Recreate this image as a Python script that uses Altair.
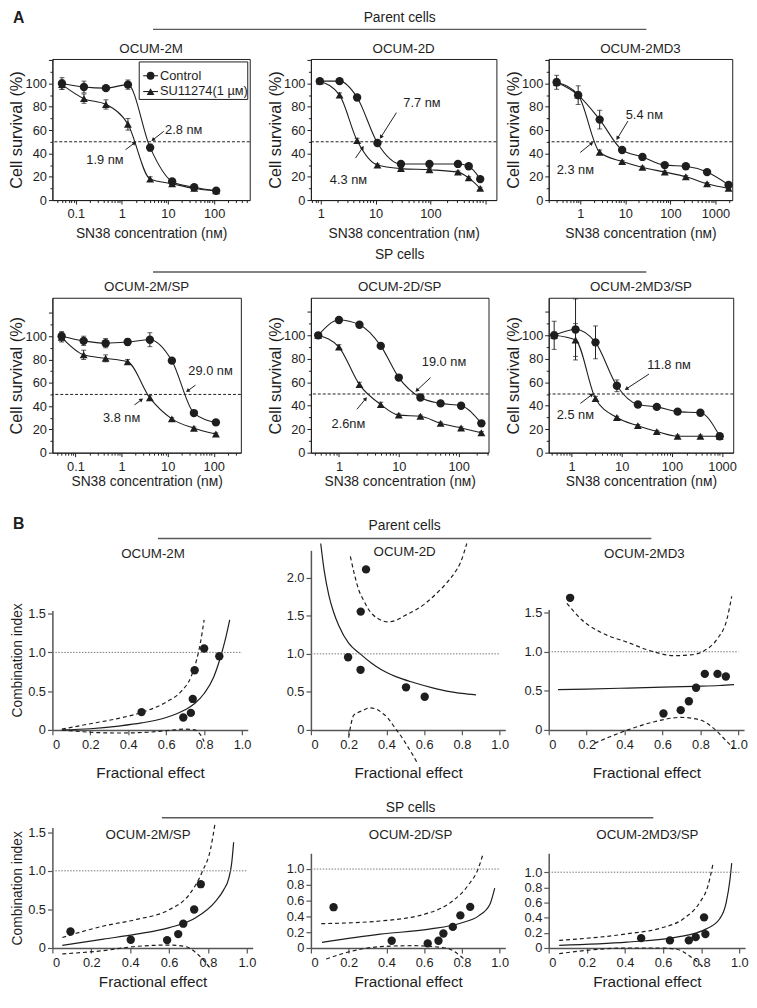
import json
import math
import altair as alt
import pandas as pd

FONT = "Liberation Sans"
INK = "#1e1e1e"
AXC = "#555555"
NM = "n\u1d0d"
UNIT = "SN38 concentration (" + NM + ")"

# ---------------- A: cell survival (%) ----------------
A1_2M_conc = [0.05, 0.15, 0.45, 1.35, 4.1, 12.3, 37, 111]
A1_2M_ctrl = [100, 97, 96, 99, 45, 16, 11, 8]
A1_2M_ctrl_err = [5, 5, 2, 4, 3, 2, 1, 1]
A1_2M_su = [99, 87, 82, 65, 18, 14, 10, 8]
A1_2M_su_err = [4, 4, 4, 5, 2, 1, 1, 1]

A1_2D_conc = [0.96, 2.2, 4.6, 10.8, 29, 96, 318, 500, 810]
A1_2D_ctrl = [102, 102, 88, 49, 31, 31, 31, 29, 18]
A1_2D_ctrl_err = [2, 2, 2, 2, 1, 1, 1, 1, 1]
A1_2D_su = [102, 90, 51, 30, 27, 26, 24, 19, 10]
A1_2D_su_err = [2, 2, 2, 1, 1, 1, 1, 1, 1]

A1_2MD3_conc = [0.3, 0.9, 2.7, 8.5, 24, 75, 220, 650, 1950]
A1_2MD3_ctrl = [101, 90, 69, 43, 37, 30, 29, 24, 13]
A1_2MD3_ctrl_err = [6, 8, 8, 2, 1, 1, 1, 1, 1]
A1_2MD3_su = [101, 90, 41, 33, 28, 24, 20, 14, 10]
A1_2MD3_su_err = [3, 3, 2, 1, 1, 1, 1, 1, 1]

A2_2M_conc = [0.05, 0.15, 0.45, 1.35, 4.1, 12.3, 37, 111]
A2_2M_ctrl = [100, 96, 94, 95, 97, 79, 34, 26]
A2_2M_ctrl_err = [4, 4, 4, 3, 6, 2, 2, 1]
A2_2M_su = [99, 84, 81, 78, 47, 29, 21, 16]
A2_2M_su_err = [4, 4, 3, 2, 2, 1, 1, 1]

A2_2D_conc = [0.45, 1.0, 2.2, 5, 10, 23, 50, 110, 240]
A2_2D_ctrl = [100, 113, 109, 91, 64, 47, 42, 40, 25]
A2_2D_ctrl_err = [2, 2, 2, 2, 2, 2, 2, 2, 2]
A2_2D_su = [100, 90, 58, 41, 32, 31, 25, 21, 17]
A2_2D_su_err = [2, 2, 2, 2, 1, 1, 1, 1, 1]

A2_2MD3_conc = [0.45, 1.2, 3, 8, 21, 50, 130, 370, 900]
A2_2MD3_ctrl = [100, 105, 94, 57, 41, 39, 35, 34, 14]
A2_2MD3_ctrl_err = [12, 26, 14, 5, 2, 2, 2, 2, 1]
A2_2MD3_su = [100, 96, 46, 30, 23, 18, 14, 14, 14]
A2_2MD3_su_err = [3, 14, 2, 1, 1, 1, 1, 1, 1]

# IC50 annotations: (text, x, y) and arrows (x_tail, y_tail, x_tip, y_tip)
A1_2M_notes = [("2.8 " + NM, 22, 60), ("1.9 " + NM, 0.43, 34)]
A1_2M_arrows = [(8.1, 59, 4.7, 51.6), (1.2, 43.2, 1.87, 49)]
A1_2D_notes = [("7.7 " + NM, 70, 83), ("4.3 " + NM, 3.2, 17)]
A1_2D_arrows = [(24, 75, 12.5, 54), (4.3, 36, 5.8, 45)]
A1_2MD3_notes = [("5.4 " + NM, 26.5, 73), ("2.3 " + NM, 0.78, 25.4)]
A1_2MD3_arrows = [(11.4, 67.7, 6.7, 53), (1.0, 40.8, 1.8, 48.8)]
A2_2M_notes = [("29.0 " + NM, 85, 70), ("3.8 " + NM, 1.0, 30)]
A2_2M_arrows = [(40, 58, 27, 53), (1.9, 41, 2.7, 45.5)]
A2_2D_notes = [("19.0 " + NM, 57, 77), ("2.6" + NM, 1.44, 24)]
A2_2D_arrows = [(34, 64, 20, 53), (2.0, 37, 2.8, 46)]
A2_2MD3_notes = [("11.8 " + NM, 88, 75), ("2.5 " + NM, 1.19, 32)]
A2_2MD3_arrows = [(35, 67, 12.4, 54.4), (1.5, 42, 2.54, 49.4)]

LEGEND_LABELS = ["Control", "SU11274(1 \u00b5\u1d0d)"]

# ---------------- B: combination index ----------------
B1_2M_pts_fa = [0.47, 0.69, 0.73, 0.74, 0.75, 0.80, 0.88]
B1_2M_pts_ci = [0.23, 0.16, 0.22, 0.40, 0.77, 1.05, 0.95]
B1_2M_fit_fa = [0.05, 0.2, 0.35, 0.47, 0.6, 0.7, 0.75, 0.8, 0.85, 0.89, 0.915, 0.935]
B1_2M_fit_ci = [0.0, 0.015, 0.05, 0.09, 0.16, 0.26, 0.34, 0.47, 0.68, 0.97, 1.2, 1.42]
B1_2M_hi_fa = [0.05, 0.2, 0.35, 0.47, 0.6, 0.68, 0.73, 0.76, 0.78, 0.8]
B1_2M_hi_ci = [0.01, 0.08, 0.15, 0.225, 0.36, 0.5, 0.68, 0.9, 1.12, 1.42]
B1_2M_lo_fa = [0.05, 0.2, 0.35, 0.5, 0.62, 0.7, 0.75, 0.78, 0.8]
B1_2M_lo_ci = [0.0, -0.03, -0.04, -0.03, -0.005, 0.01, 0.0, -0.06, -0.15]

B1_2D_pts_fa = [0.197, 0.263, 0.264, 0.292, 0.504, 0.603]
B1_2D_pts_ci = [0.955, 0.79, 1.555, 2.11, 0.56, 0.436]
B1_2D_fit_fa = [0.052, 0.07, 0.096, 0.12, 0.148, 0.2, 0.261, 0.32, 0.374, 0.45, 0.548, 0.65, 0.72, 0.8, 0.875]
B1_2D_fit_ci = [2.45, 2.1, 1.76, 1.55, 1.37, 1.14, 1.0, 0.88, 0.79, 0.7, 0.62, 0.55, 0.51, 0.48, 0.46]
B1_2D_hi_fa = [0.209, 0.23, 0.252, 0.28, 0.304, 0.33, 0.357, 0.383, 0.409, 0.45, 0.496, 0.55, 0.6, 0.66, 0.722, 0.76, 0.791, 0.826]
B1_2D_hi_ci = [2.28, 2.05, 1.85, 1.7, 1.59, 1.51, 1.46, 1.43, 1.42, 1.44, 1.5, 1.57, 1.65, 1.78, 1.94, 2.06, 2.19, 2.45]
B1_2D_lo_fa = [0.2, 0.213, 0.226, 0.25, 0.27, 0.313, 0.35, 0.374, 0.41, 0.443, 0.48, 0.513, 0.545, 0.565]
B1_2D_lo_ci = [-0.1, 0.08, 0.19, 0.23, 0.25, 0.29, 0.27, 0.23, 0.15, 0.035, -0.09, -0.22, -0.35, -0.44]

B1_2MD3_pts_fa = [0.113, 0.605, 0.696, 0.739, 0.777, 0.823, 0.89, 0.934]
B1_2MD3_pts_ci = [1.69, 0.21, 0.253, 0.367, 0.54, 0.717, 0.717, 0.684]
B1_2MD3_fit_fa = [0.049, 0.2, 0.417, 0.6, 0.765, 0.9, 0.977]
B1_2MD3_fit_ci = [0.515, 0.523, 0.536, 0.547, 0.558, 0.568, 0.58]
B1_2MD3_hi_fa = [0.096, 0.174, 0.278, 0.417, 0.539, 0.661, 0.748, 0.817, 0.887, 0.939, 0.965]
B1_2MD3_hi_ci = [1.62, 1.41, 1.245, 1.12, 1.01, 0.95, 0.96, 1.01, 1.16, 1.41, 1.71]
B1_2MD3_lo_fa = [0.243, 0.33, 0.417, 0.557, 0.696, 0.8, 0.87, 0.939, 0.974]
B1_2MD3_lo_ci = [-0.17, -0.08, 0.0, 0.105, 0.16, 0.127, 0.02, -0.148, -0.23]

B2_2M_pts_fa = [0.093, 0.403, 0.59, 0.647, 0.673, 0.729, 0.763]
B2_2M_pts_ci = [0.213, 0.107, 0.102, 0.18, 0.315, 0.498, 0.827]
B2_2M_fit_fa = [0.051, 0.263, 0.432, 0.602, 0.737, 0.839, 0.88, 0.907, 0.922, 0.932]
B2_2M_fit_ci = [0.034, 0.115, 0.179, 0.264, 0.392, 0.605, 0.75, 0.903, 1.1, 1.37]
B2_2M_hi_fa = [0.051, 0.263, 0.432, 0.602, 0.703, 0.771, 0.814, 0.836]
B2_2M_hi_ci = [0.136, 0.285, 0.37, 0.498, 0.69, 0.99, 1.29, 1.61]
B2_2M_lo_fa = [0.051, 0.263, 0.432, 0.602, 0.686, 0.754, 0.814]
B2_2M_lo_ci = [-0.077, -0.034, 0.021, 0.038, 0.017, -0.098, -0.27]

B2_2D_pts_fa = [0.12, 0.428, 0.619, 0.676, 0.702, 0.752, 0.792, 0.844]
B2_2D_pts_ci = [0.517, 0.092, 0.058, 0.092, 0.183, 0.267, 0.413, 0.521]
B2_2D_fit_fa = [0.059, 0.367, 0.627, 0.8, 0.887, 0.948, 0.974]
B2_2D_fit_ci = [0.071, 0.175, 0.238, 0.32, 0.404, 0.55, 0.758]
B2_2D_hi_fa = [0.055, 0.367, 0.627, 0.749, 0.835, 0.887, 0.91]
B2_2D_hi_ci = [0.308, 0.342, 0.446, 0.592, 0.8, 1.008, 1.175]
B2_2D_lo_fa = [0.081, 0.194, 0.367, 0.541, 0.714, 0.8, 0.82]
B2_2D_lo_ci = [-0.14, -0.054, 0.017, 0.029, 0.0, -0.117, -0.16]

B2_2MD3_pts_fa = [0.485, 0.636, 0.735, 0.771, 0.822, 0.815]
B2_2MD3_pts_ci = [0.13, 0.1, 0.1, 0.143, 0.183, 0.404]
B2_2MD3_fit_fa = [0.055, 0.411, 0.671, 0.827, 0.896, 0.931, 0.951, 0.96]
B2_2MD3_fit_ci = [0.035, 0.078, 0.143, 0.252, 0.383, 0.6, 0.904, 1.12]
B2_2MD3_hi_fa = [0.055, 0.411, 0.584, 0.705, 0.792, 0.835, 0.861]
B2_2MD3_hi_ci = [0.1, 0.187, 0.26, 0.383, 0.6, 0.817, 1.1]
B2_2MD3_lo_fa = [0.055, 0.411, 0.584, 0.671, 0.757, 0.809]
B2_2MD3_lo_ci = [-0.074, 0.0, 0.0, -0.017, -0.139, -0.248]

MAJOR_LOG = "abs(log(datum.value)/LN10 - round(log(datum.value)/LN10)) < 0.001"
FMT1 = "datum.value == 0 ? '0' : format(datum.value, '.1f')"


def log_tick_values(lo, hi):
    vals = []
    for e in range(math.floor(math.log10(lo)), math.ceil(math.log10(hi)) + 1):
        for k in range(1, 10):
            v = float(f"{k}e{e}")
            if lo <= v <= hi:
                vals.append(v)
    return vals


def one(**cols):
    return alt.Chart(pd.DataFrame({k: [v] for k, v in cols.items()}))


def txt(text, x, y, size=13.5, align="center", weight="normal"):
    return one(t=text).mark_text(fontSize=size, font=FONT, color=INK, align=align,
                                 baseline="middle", fontWeight=weight).encode(
        x=alt.value(x), y=alt.value(y), text="t:N")


def hline(x0, x1, y, color="#5a5a5a", width=1.5):
    return one(t=0).mark_rule(color=color, strokeWidth=width).encode(
        x=alt.value(x0), x2=alt.value(x1), y=alt.value(y))


def header(text, tx, ty, lx0, lx1, ly):
    return [txt(text, tx, ty, size=14), hline(lx0, lx1, ly)]


def legend_layers(w):
    out = [one(t=0).mark_rect(fill="white", stroke=INK, strokeWidth=1).encode(
        x=alt.value(w - 112), x2=alt.value(w - 2), y=alt.value(3), y2=alt.value(41))]
    for lab, shape, yy in zip(LEGEND_LABELS, ["circle", "triangle-up"], [17, 33]):
        out.append(hline(w - 108, w - 93, yy, color=INK, width=1.1))
        out.append(one(t=lab).mark_point(shape=shape, filled=True, size=62, color=INK, opacity=1).encode(
            x=alt.value(w - 100.5), y=alt.value(yy)))
        out.append(txt(lab, w - 91, yy, size=13, align="left"))
    return out


def survival_panel(title, conc, ctrl, ctrl_err, su, su_err, xdom, xlabels, ymax, w, h,
                   notes, arrows, xpad, extras=()):
    lx0, lx1 = math.log10(xdom[0]), math.log10(xdom[1])

    def px(v):
        return w * (math.log10(v) - lx0) / (lx1 - lx0)

    def py(v):
        return h * (1 - v / ymax)

    xs = alt.Scale(type="log", domain=list(xdom), nice=False)
    ys = alt.Scale(domain=[0, ymax], nice=False, zero=False)
    xaxis = alt.Axis(values=log_tick_values(*xdom),
                     labelExpr=f"indexof({json.dumps(xlabels)}, datum.value) >= 0 ? format(datum.value, '~g') : ''",
                     tickSize={"condition": {"test": MAJOR_LOG, "value": 4}, "value": 2.5},
                     title=UNIT, titlePadding=xpad, titleFontSize=14, labelPadding=4, grid=False)
    yaxis = alt.Axis(values=[v for v in range(0, 121, 10) if v <= ymax],
                     labelExpr="indexof([0, 20, 40, 60, 80, 100], datum.value) >= 0 ? datum.label : ''",
                     tickSize={"condition": {"test": "datum.value % 20 === 0", "value": 4}, "value": 2.5},
                     title="Cell survival (%)", titleX=-36, titleBaseline="middle", titleFontSize=16.5,
                     labelPadding=2, grid=False)

    def X(f):
        return alt.X(f, type="quantitative", scale=xs, axis=xaxis)

    def Y(f):
        return alt.Y(f, type="quantitative", scale=ys, axis=yaxis)

    df = pd.DataFrame({"conc": conc, "ctrl": ctrl, "su": su})
    err = pd.DataFrame({
        "conc": list(conc) + list(conc),
        "lo": [v - e for v, e in zip(ctrl, ctrl_err)] + [v - e for v, e in zip(su, su_err)],
        "hi": [v + e for v, e in zip(ctrl, ctrl_err)] + [v + e for v, e in zip(su, su_err)],
    })
    nd = pd.DataFrame({"t": [n[0] for n in notes], "x": [n[1] for n in notes], "y": [n[2] for n in notes]})
    ad = pd.DataFrame({
        "x0": [a[0] for a in arrows], "y0": [a[1] for a in arrows],
        "x1": [a[2] for a in arrows], "y1": [a[3] for a in arrows],
        "ang": [math.degrees(math.atan2(px(a[2]) - px(a[0]), -(py(a[3]) - py(a[1])))) % 360 for a in arrows],
    })
    base = alt.Chart(df)
    eb = alt.Chart(err)
    layers = [
        base.mark_line(interpolate="monotone", color=INK, strokeWidth=1.1).encode(x=X("conc"), y=Y("ctrl")),
        one(v=50).mark_rule(color=INK, strokeDash=[3, 2], strokeWidth=1).encode(y=Y("v")),
        base.mark_line(interpolate="monotone", color=INK, strokeWidth=1.1).encode(x=X("conc"), y=Y("su")),
        eb.mark_rule(color=INK, strokeWidth=1).encode(x=X("conc"), y=Y("lo"), y2="hi"),
        eb.mark_tick(orient="horizontal", color=INK, size=5, thickness=1).encode(x=X("conc"), y=Y("lo")),
        eb.mark_tick(orient="horizontal", color=INK, size=5, thickness=1).encode(x=X("conc"), y=Y("hi")),
        base.mark_point(shape="circle", filled=True, size=72, color=INK, opacity=1).encode(
            x=X("conc"), y=Y("ctrl")),
        base.mark_point(shape="triangle-up", filled=True, size=64, color=INK, opacity=1).encode(
            x=X("conc"), y=Y("su")),
        alt.Chart(nd).mark_text(fontSize=13, font=FONT, color=INK, baseline="middle").encode(
            x=X("x"), y=Y("y"), text="t:N"),
        alt.Chart(ad).mark_rule(color=INK, strokeWidth=1).encode(
            x=X("x0"), y=Y("y0"), x2="x1", y2="y1"),
        alt.Chart(ad).mark_point(shape="triangle-up", filled=True, size=20, color=INK, opacity=1).encode(
            x=X("x1"), y=Y("y1"), angle=alt.Angle("ang:Q", scale=None)),
        txt(title, w / 2, -10.5),
    ] + list(extras)
    return alt.layer(*layers).properties(
        width=w, height=h, view=alt.ViewBackground(stroke=INK, strokeWidth=1))


def ci_panel(title, tx, ty, pfa, pci, ffa, fci, hfa, hci, lfa, lci, ydom, yticks, w, h, xpad,
             xrange=None, yrange=None, ytitle=None, ytitle_y=None, extras=()):
    xkw = dict(domain=[0, 1.03], nice=False)
    if xrange:
        xkw["range"] = xrange
    ykw = dict(domain=list(ydom), nice=False, zero=False)
    if yrange:
        ykw["range"] = yrange
    xs = alt.Scale(**xkw)
    ys = alt.Scale(**ykw)

    style = dict(domainColor=AXC, tickColor=AXC, domainWidth=1.5, tickWidth=1.2, grid=False)
    xaxis = alt.Axis(values=[0, 0.2, 0.4, 0.6, 0.8, 1.0], labelExpr=FMT1, title="Fractional effect",
                     titlePadding=xpad, titleFontSize=15.5, tickSize=5, labelPadding=4, **style)
    ykw2 = dict(values=yticks, labelExpr=FMT1, tickSize=5, labelPadding=2, **style)
    if ytitle:
        ykw2.update(title=ytitle, titleX=-35, titleBaseline="middle", titleFontSize=14)
        if ytitle_y is not None:
            ykw2["titleY"] = ytitle_y
    else:
        ykw2["title"] = None
    yaxis = alt.Axis(**ykw2)

    def X(f):
        return alt.X(f, type="quantitative", scale=xs, axis=xaxis)

    def Y(f):
        return alt.Y(f, type="quantitative", scale=ys, axis=yaxis)

    pts = alt.Chart(pd.DataFrame({"fa": pfa, "ci": pci}))
    fit = alt.Chart(pd.DataFrame({"fa": ffa, "ci": fci}))
    hi = alt.Chart(pd.DataFrame({"fa": hfa, "ci": hci}))
    lo = alt.Chart(pd.DataFrame({"fa": lfa, "ci": lci}))
    layers = [
        fit.mark_line(interpolate="monotone", color=INK, strokeWidth=1.2).encode(x=X("fa"), y=Y("ci")),
        one(a=0.0, b=1.0, c=1.0).mark_rule(color="#777777", strokeDash=[1.5, 1.5], strokeWidth=1).encode(
            x=X("a"), x2="b", y=Y("c")),
        hi.mark_line(interpolate="monotone", color=INK, strokeWidth=1.2, strokeDash=[4, 3]).encode(
            x=X("fa"), y=Y("ci")),
        lo.mark_line(interpolate="monotone", color=INK, strokeWidth=1.2, strokeDash=[4, 3]).encode(
            x=X("fa"), y=Y("ci")),
        pts.mark_circle(size=72, color=INK, opacity=1).encode(x=X("fa"), y=Y("ci")),
        txt(title, tx, ty),
    ] + list(extras)
    return alt.layer(*layers).properties(
        width=w, height=h, view=alt.ViewBackground(stroke="transparent"))


A1_H, A2_H, B1_H, B2_H = 143, 157, 182, 122

panels = [
    survival_panel("OCUM-2M", A1_2M_conc, A1_2M_ctrl, A1_2M_ctrl_err, A1_2M_su, A1_2M_su_err,
                   (0.031, 594), [0.1, 1, 10, 100], 121, 200, A1_H, A1_2M_notes, A1_2M_arrows, 6,
                   extras=legend_layers(200) + [txt("A", -40, -41, size=16, align="left", weight="bold")]),
    survival_panel("OCUM-2D", A1_2D_conc, A1_2D_ctrl, A1_2D_ctrl_err, A1_2D_su, A1_2D_su_err,
                   (0.66, 1600), [1, 10, 100], 121, 188, A1_H, A1_2D_notes, A1_2D_arrows, 6,
                   extras=header("Parent cells", 90, -41, -160, 340, -30)),
    survival_panel("OCUM-2MD3", A1_2MD3_conc, A1_2MD3_ctrl, A1_2MD3_ctrl_err, A1_2MD3_su, A1_2MD3_su_err,
                   (0.2, 2350), [1, 10, 100, 1000], 121, 186, A1_H, A1_2MD3_notes, A1_2MD3_arrows, 6),
    survival_panel("OCUM-2M/SP", A2_2M_conc, A2_2M_ctrl, A2_2M_ctrl_err, A2_2M_su, A2_2M_su_err,
                   (0.0315, 386), [0.1, 1, 10, 100], 133, 191, A2_H, A2_2M_notes, A2_2M_arrows, 1),
    survival_panel("OCUM-2D/SP", A2_2D_conc, A2_2D_ctrl, A2_2D_ctrl_err, A2_2D_su, A2_2D_su_err,
                   (0.34, 316), [1, 10, 100], 132, 180, A2_H, A2_2D_notes, A2_2D_arrows, 1,
                   extras=header("SP cells", 90, -43, -160, 340, -26)),
    survival_panel("OCUM-2MD3/SP", A2_2MD3_conc, A2_2MD3_ctrl, A2_2MD3_ctrl_err, A2_2MD3_su, A2_2MD3_su_err,
                   (0.35, 1670), [1, 10, 100, 1000], 132, 187, A2_H, A2_2MD3_notes, A2_2MD3_arrows, 1),
    ci_panel("OCUM-2M", 102, 3.3, B1_2M_pts_fa, B1_2M_pts_ci, B1_2M_fit_fa, B1_2M_fit_ci,
             B1_2M_hi_fa, B1_2M_hi_ci, B1_2M_lo_fa, B1_2M_lo_ci, (0, 1.54), [0, 0.5, 1.0, 1.5],
             218, B1_H, 14, xrange=[0, 198], yrange=[B1_H, B1_H - 121],
             ytitle="Combination index", ytitle_y=111,
             extras=[txt("B", -40, -27, size=16, align="left", weight="bold")]),
    ci_panel("OCUM-2D", 95, 1.7, B1_2D_pts_fa, B1_2D_pts_ci, B1_2D_fit_fa, B1_2D_fit_ci,
             B1_2D_hi_fa, B1_2D_hi_ci, B1_2D_lo_fa, B1_2D_lo_ci, (0, 2.36), [0, 0.5, 1.0, 1.5, 2.0],
             197, B1_H, 14, extras=header("Parent cells", 95, -25, -155, 345, -12)),
    ci_panel("OCUM-2MD3", 97, 3.3, B1_2MD3_pts_fa, B1_2MD3_pts_ci, B1_2MD3_fit_fa, B1_2MD3_fit_ci,
             B1_2MD3_hi_fa, B1_2MD3_hi_ci, B1_2MD3_lo_fa, B1_2MD3_lo_ci, (0, 1.54), [0, 0.5, 1.0, 1.5],
             198, B1_H, 14, yrange=[B1_H, B1_H - 122]),
    ci_panel("OCUM-2M/SP", 97, 7.3, B2_2M_pts_fa, B2_2M_pts_ci, B2_2M_fit_fa, B2_2M_fit_ci,
             B2_2M_hi_fa, B2_2M_hi_ci, B2_2M_lo_fa, B2_2M_lo_ci, (0, 1.56), [0, 0.5, 1.0, 1.5],
             203, B2_H, 5, ytitle="Combination index"),
    ci_panel("OCUM-2D/SP", 101, 8, B2_2D_pts_fa, B2_2D_pts_ci, B2_2D_fit_fa, B2_2D_fit_ci,
             B2_2D_hi_fa, B2_2D_hi_ci, B2_2D_lo_fa, B2_2D_lo_ci, (0, 1.2), [0, 0.2, 0.4, 0.6, 0.8, 1.0],
             197, B2_H, 5, yrange=[B2_H, B2_H - 96], extras=header("SP cells", 101, -20, -151, 347, -10)),
    ci_panel("OCUM-2MD3/SP", 100, 7.3, B2_2MD3_pts_fa, B2_2MD3_pts_ci, B2_2MD3_fit_fa, B2_2MD3_fit_ci,
             B2_2MD3_hi_fa, B2_2MD3_hi_ci, B2_2MD3_lo_fa, B2_2MD3_lo_ci, (0, 1.25), [0, 0.2, 0.4, 0.6, 0.8, 1.0],
             199, B2_H, 5, yrange=[B2_H, B2_H - 96]),
]

chart = alt.concat(*panels, columns=3, spacing={"row": 99, "column": 44},
                   bounds="flush", align="each").properties(
    padding={"left": 0, "right": 0, "top": -5, "bottom": 0}, background="white"
).configure_view(stroke="transparent").configure_axis(
    labelFont=FONT, titleFont=FONT, labelFontSize=13, titleFontSize=13.5,
    titleFontWeight="normal", labelColor=INK, titleColor=INK, domainColor=INK, tickColor=INK
).configure_text(font=FONT)

chart.save("out.html", embed_options={"renderer": "svg", "actions": False})
